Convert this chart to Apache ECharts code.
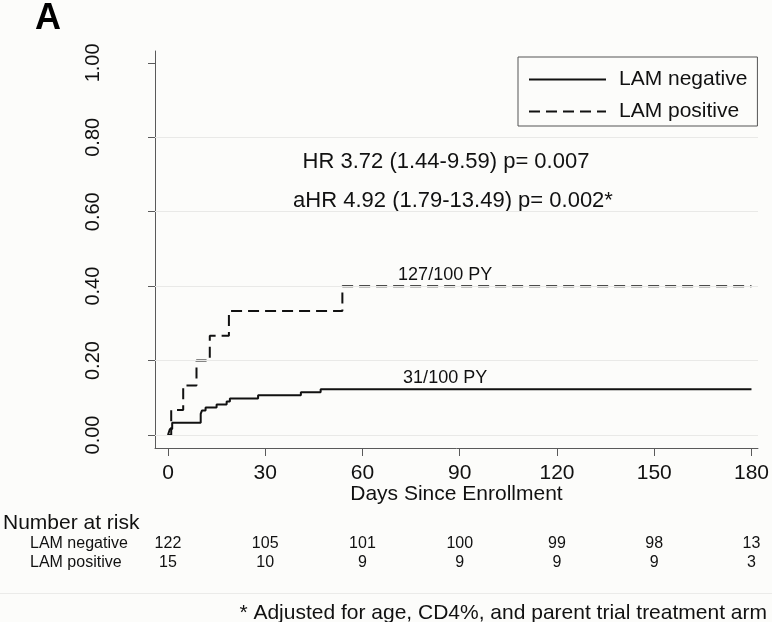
<!DOCTYPE html>
<html>
<head>
<meta charset="utf-8">
<script src="https://cdn.jsdelivr.net/npm/echarts@6/dist/echarts.min.js"></script>
<style>
html,body{margin:0;padding:0;background:#fcfcfa;}
#main{width:772px;height:622px;}
</style>
</head>
<body>
<div id="main"></div>
<script>
// ---- data ----
const xTicks = [0, 30, 60, 90, 120, 150, 180];
const yTicks = [0, 0.2, 0.4, 0.6, 0.8, 1.0];
const gridValues = [0, 0.2, 0.4, 0.6, 0.8];
const negDays = [0, 0.6, 1.3, 10.1, 10.5, 11.6, 15, 18.1, 19.1, 27.8, 41, 47.1, 180];
const negCum  = [0, 0.016, 0.033, 0.057, 0.066, 0.074, 0.082, 0.090, 0.098, 0.107, 0.115, 0.123, 0.123];
const posDays = [0, 1, 4.7, 8.8, 12.9, 18.8, 53.8, 180];
const posCum  = [0, 0.067, 0.133, 0.200, 0.267, 0.333, 0.400, 0.400];
const riskNeg = [122, 105, 101, 100, 99, 98, 13];
const riskPos = [15, 10, 9, 9, 9, 9, 3];
const seriesNames = ['LAM negative', 'LAM positive'];
const rateLabels = ['31/100 PY', '127/100 PY'];
const rateLabelDay = 85.5;
const hrLines = ['HR 3.72 (1.44-9.59) p= 0.007', 'aHR 4.92 (1.79-13.49) p= 0.002*'];
const footnote = '* Adjusted for age, CD4%, and parent trial treatment arm';

const FONT = '"Liberation Sans", Arial, Helvetica, sans-serif';
const INK = '#111';
const AXIS = '#5a5a5a';

function pairs(xs, ys) { return xs.map((x, i) => [x, ys[i]]); }

const chart = echarts.init(document.getElementById('main'), null, {renderer: 'canvas'});

function riskAxis(values, offset) {
  return {
    type: 'value', gridIndex: 0, position: 'bottom', offset: offset,
    min: -4, max: 182,
    axisLine: {show: false}, axisTick: {show: false}, splitLine: {show: false},
    axisLabel: {
      customValues: xTicks, margin: 0, verticalAlign: 'middle',
      fontFamily: FONT, fontSize: 16, color: INK,
      formatter: v => String(values[xTicks.indexOf(v)])
    }
  };
}

const option = {
  backgroundColor: '#fcfcfa',
  animation: false,
  textStyle: {fontFamily: FONT},
  grid: {left: 155, right: 14, top: 51, bottom: 174},
  legend: {
    data: seriesNames,
    orient: 'vertical',
    left: 518, top: 57,
    itemWidth: 77, itemHeight: 14, itemGap: 11,
    padding: [12, 10, 4, 10],
    borderColor: '#555', borderWidth: 1,
    backgroundColor: '#fcfcfa',
    itemStyle: {opacity: 0},
    textStyle: {fontFamily: FONT, fontSize: 21, color: INK, padding: [0, 0, 0, 8]},
    selectedMode: false
  },
  xAxis: [
    {
      type: 'value', min: -4, max: 182,
      axisLine: {show: true, onZero: false, lineStyle: {color: AXIS, width: 1}},
      axisTick: {show: true, customValues: xTicks, length: 8, lineStyle: {color: AXIS}},
      axisLabel: {customValues: xTicks, margin: 15, fontFamily: FONT, fontSize: 21, color: INK},
      splitLine: {show: false},
      name: 'Days Since Enrollment', nameLocation: 'middle', nameGap: 36, nameMoveOverlap: false,
      nameTextStyle: {fontFamily: FONT, fontSize: 21, color: INK}
    },
    riskAxis(riskNeg, 96),
    riskAxis(riskPos, 114.5)
  ],
  yAxis: {
    type: 'value', min: -0.035, max: 1.032,
    axisLine: {show: true, onZero: false, lineStyle: {color: AXIS, width: 1}},
    axisTick: {show: true, customValues: yTicks, length: 7, lineStyle: {color: AXIS}},
    axisLabel: {customValues: yTicks, rotate: 90, margin: 52, fontFamily: FONT, fontSize: 20, color: INK,
      formatter: v => v.toFixed(2)},
    splitLine: {show: false}
  },
  series: [
    {
      name: '__grid', type: 'line', data: [], silent: true, z: 1,
      markLine: {
        silent: true, symbol: 'none', label: {show: false},
        lineStyle: {color: '#e9e9e7', width: 1.2, type: 'solid'},
        data: gridValues.map(v => ({yAxis: v}))
      }
    },
    {
      name: seriesNames[0], type: 'line', step: 'end', symbol: 'none', z: 3,
      data: pairs(negDays, negCum),
      lineStyle: {color: INK, width: 2, type: 'solid'},
      itemStyle: {color: INK},
      markPoint: {
        symbol: 'circle', symbolSize: 0,
        label: {show: true, position: 'inside', offset: [0, -11], fontFamily: FONT, fontSize: 18, color: INK,
          formatter: rateLabels[0]},
        data: [{coord: [rateLabelDay, negCum[negCum.length - 1]]}]
      }
    },
    {
      name: seriesNames[1], type: 'line', step: 'end', symbol: 'none', z: 3,
      data: pairs(posDays, posCum),
      lineStyle: {color: INK, width: 2, type: [11, 6]},
      itemStyle: {color: INK},
      markPoint: {
        symbol: 'circle', symbolSize: 0,
        label: {show: true, position: 'inside', offset: [0, -11], fontFamily: FONT, fontSize: 18, color: INK,
          formatter: rateLabels[1]},
        data: [{coord: [rateLabelDay, posCum[posCum.length - 1]]}]
      }
    }
  ],
  graphic: [
    {type: 'text', left: 35, top: 1, style: {text: 'A', fontFamily: FONT, fontSize: 36, fontWeight: 'bold', fill: '#000'}},
    {type: 'text', x: 446, y: 162, style: {text: hrLines[0], fontFamily: FONT, fontSize: 22, fill: INK, align: 'center', verticalAlign: 'middle'}},
    {type: 'text', x: 453, y: 201, style: {text: hrLines[1], fontFamily: FONT, fontSize: 22, fill: INK, align: 'center', verticalAlign: 'middle'}},
    {type: 'text', x: 3, y: 523, style: {text: 'Number at risk', fontFamily: FONT, fontSize: 21, fill: INK, align: 'left', verticalAlign: 'middle'}},
    {type: 'text', x: 30, y: 544, style: {text: seriesNames[0], fontFamily: FONT, fontSize: 16, fill: INK, align: 'left', verticalAlign: 'middle'}},
    {type: 'text', x: 30, y: 562.5, style: {text: seriesNames[1], fontFamily: FONT, fontSize: 16, fill: INK, align: 'left', verticalAlign: 'middle'}},
    {type: 'line', shape: {x1: 0, y1: 593.5, x2: 772, y2: 593.5}, style: {stroke: '#ebebe9', lineWidth: 1}},
    {type: 'text', x: 767, y: 613, style: {text: footnote, fontFamily: FONT, fontSize: 21, fill: INK, align: 'right', verticalAlign: 'middle'}}
  ]
};
chart.setOption(option);
</script>
</body>
</html>
